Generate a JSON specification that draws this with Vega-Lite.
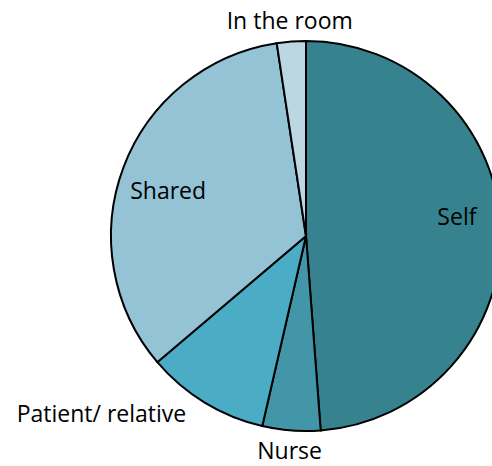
{
  "$schema": "https://vega.github.io/schema/vega-lite/v6.json",
  "width": 612,
  "height": 472,
  "autosize": "none",
  "padding": 0,
  "background": "white",
  "config": {"view": {"stroke": null}, "font": "Open Sans"},
  "data": {"values": [
    {"cat": "Self", "pct": 48.8, "idx": 1},
    {"cat": "Nurse", "pct": 4.8, "idx": 2},
    {"cat": "Patient/ relative", "pct": 10.2, "idx": 3},
    {"cat": "Shared", "pct": 33.8, "idx": 4},
    {"cat": "In the room", "pct": 2.4, "idx": 5}
  ]},
  "encoding": {
    "theta": {"field": "pct", "type": "quantitative", "stack": true},
    "order": {"field": "idx", "type": "quantitative"}
  },
  "layer": [
    {
      "mark": {"type": "arc", "outerRadius": 195, "stroke": "black", "strokeWidth": 2},
      "encoding": {
        "color": {"field": "cat", "type": "nominal", "legend": null,
          "scale": {"domain": ["Self", "Nurse", "Patient/ relative", "Shared", "In the room"],
                    "range": ["#37828F", "#4396A8", "#4BACC6", "#93C3D4", "#BDD7E2"]}}
      }
    },
    {
      "mark": {"type": "text", "radius": 150, "dx": 1, "dy": -12, "fontSize": 23, "color": "black"},
      "encoding": {"text": {"condition": {"test": "datum.cat === 'Self'", "field": "cat"}, "value": ""}}
    },
    {
      "mark": {"type": "text", "radius": 218, "dy": -1, "fontSize": 23, "color": "black"},
      "encoding": {"text": {"condition": {"test": "datum.cat === 'Nurse'", "field": "cat"}, "value": ""}}
    },
    {
      "mark": {"type": "text", "radius": 230, "dx": -85, "dy": -17, "fontSize": 23, "color": "black"},
      "encoding": {"text": {"condition": {"test": "datum.cat === 'Patient/ relative'", "field": "cat"}, "value": ""}}
    },
    {
      "mark": {"type": "text", "radius": 144, "dx": -3, "dy": 6, "fontSize": 23, "color": "black"},
      "encoding": {"text": {"condition": {"test": "datum.cat === 'Shared'", "field": "cat"}, "value": ""}}
    },
    {
      "mark": {"type": "text", "radius": 216, "dy": 1, "fontSize": 23, "color": "black"},
      "encoding": {"text": {"condition": {"test": "datum.cat === 'In the room'", "field": "cat"}, "value": ""}}
    }
  ]
}
